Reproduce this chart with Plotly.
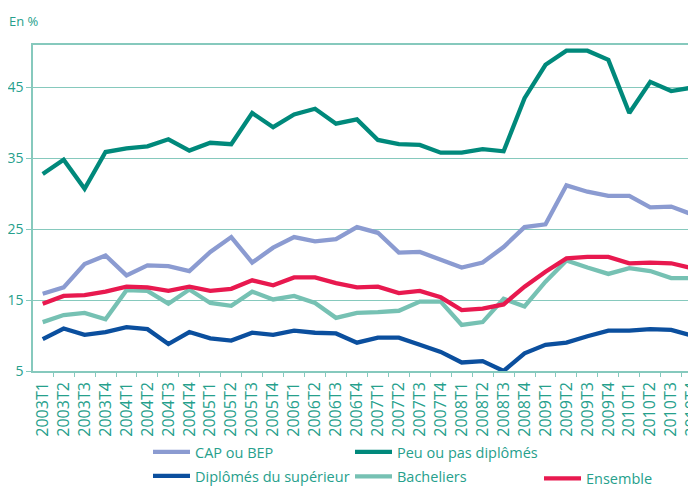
import plotly.graph_objects as go

quarters = [f"{y}T{q}" for y in range(2003, 2011) for q in range(1, 5)]

cap_bep = [15.9, 16.8, 20.1, 21.3, 18.5, 19.9, 19.8, 19.1, 21.8, 23.9,
           20.3, 22.4, 23.9, 23.3, 23.6, 25.3, 24.5, 21.7, 21.8, 20.7,
           19.6, 20.3, 22.5, 25.3, 25.7, 31.2, 30.3, 29.7, 29.7, 28.1,
           28.2, 27.1]
peu_pas = [32.8, 34.8, 30.7, 35.9, 36.4, 36.7, 37.7, 36.1, 37.2, 37.0,
           41.4, 39.4, 41.2, 42.0, 39.9, 40.5, 37.6, 37.0, 36.9, 35.8,
           35.8, 36.3, 36.0, 43.5, 48.2, 50.2, 50.2, 48.9, 41.4, 45.8,
           44.5, 45.0]
superieur = [9.5, 11.0, 10.1, 10.5, 11.2, 10.9, 8.8, 10.5, 9.6, 9.3,
             10.4, 10.1, 10.7, 10.4, 10.3, 9.0, 9.7, 9.7, 8.7, 7.7,
             6.2, 6.4, 5.0, 7.5, 8.7, 9.0, 9.9, 10.7, 10.7, 10.9,
             10.8, 10.0]
bacheliers = [11.9, 12.9, 13.2, 12.3, 16.4, 16.3, 14.5, 16.5, 14.6, 14.2,
              16.2, 15.1, 15.6, 14.6, 12.5, 13.2, 13.3, 13.5, 14.8, 14.8,
              11.5, 11.9, 15.2, 14.1, 17.6, 20.6, 19.6, 18.7, 19.5, 19.1,
              18.1, 18.1]
ensemble = [14.5, 15.6, 15.7, 16.2, 16.9, 16.8, 16.3, 16.9, 16.3, 16.6,
            17.8, 17.1, 18.2, 18.2, 17.4, 16.8, 16.9, 16.0, 16.3, 15.4,
            13.6, 13.8, 14.4, 16.9, 19.0, 20.9, 21.1, 21.1, 20.2, 20.3,
            20.2, 19.5]

y_ticks = [5, 15, 25, 35, 45]

TEAL_TXT = "#26a08c"
LINE_C = "#86c9bd"
FONT = "Open Sans"

# the page shows the figure with an 8px body offset
OFF = 8
W, H = 696, 486
ML, MR, MT, MB = 33 - OFF, 0, 45 - OFF, H - (371 - OFF)
PW = W - ML - MR
PH = H - MT - MB
STEP = 20.95
X0 = -(42.7 - 33) / STEP
X1 = X0 + PW / STEP


def px_x(px):
    return (px - OFF - ML) / PW


def px_y(py):
    return (H - MB - (py - OFF)) / PH


series = [
    ("Peu ou pas diplômés", peu_pas, "#00897b", "legend2", 350, 452),
    ("CAP ou BEP", cap_bep, "#8b9bd1", "legend", 148, 452),
    ("Bacheliers", bacheliers, "#76c1b3", "legend4", 350, 476.5),
    ("Diplômés du supérieur", superieur, "#0b4f9e", "legend3", 148, 476),
    ("Ensemble", ensemble, "#e8194f", "legend5", 539, 478.5),
]

fig = go.Figure()
legend_layout = {}
for name, vals, color, leg, lx, ly in series:
    fig.add_trace(go.Scatter(
        x=quarters, y=vals, mode="lines", name=name,
        line=dict(color=color, width=4.3), legend=leg,
        hoverinfo="skip",
    ))
    legend_layout[leg] = dict(
        x=(lx - OFF) / W, y=1 - (ly - OFF) / H,
        xanchor="left", yanchor="middle",
        xref="container", yref="container",
        font=dict(family=FONT, size=14.5, color=TEAL_TXT),
        bgcolor="rgba(0,0,0,0)", borderwidth=0,
        orientation="h", itemwidth=37,
    )

fig.update_layout(
    width=W, height=H,
    margin=dict(l=ML, r=MR, t=MT, b=MB, pad=0, autoexpand=False),
    paper_bgcolor="white", plot_bgcolor="white",
    font=dict(family=FONT, color=TEAL_TXT),
    showlegend=True,
    **legend_layout,
    xaxis=dict(
        type="category", categoryorder="array", categoryarray=quarters,
        range=[X0, X1], automargin=False,
        tickmode="array", tickvals=quarters, ticktext=quarters,
        tickangle=-90, tickson="boundaries",
        ticks="outside", ticklen=4, tickcolor=LINE_C,
        ticklabeloverflow="allow", ticklabelstandoff=3,
        tickfont=dict(family=FONT, size=16, color=TEAL_TXT),
        showline=True, linecolor=LINE_C, linewidth=1.5, mirror=True,
        showgrid=False, zeroline=False,
    ),
    yaxis=dict(
        range=[5, 51], tickmode="array", tickvals=y_ticks, automargin=False,
        ticks="outside", ticklen=5, tickcolor=LINE_C,
        ticklabeloverflow="allow",
        tickfont=dict(family=FONT, size=14, color=TEAL_TXT),
        showline=True, linecolor=LINE_C, linewidth=1.5,
        showgrid=True, gridcolor=LINE_C, gridwidth=1.2,
        zeroline=False,
    ),
    annotations=[dict(
        text="En %", xref="paper", yref="paper",
        x=px_x(7), y=px_y(21), xanchor="left", yanchor="middle",
        showarrow=False, font=dict(family=FONT, size=13, color=TEAL_TXT),
    )],
)

fig.write_html("out.html")
